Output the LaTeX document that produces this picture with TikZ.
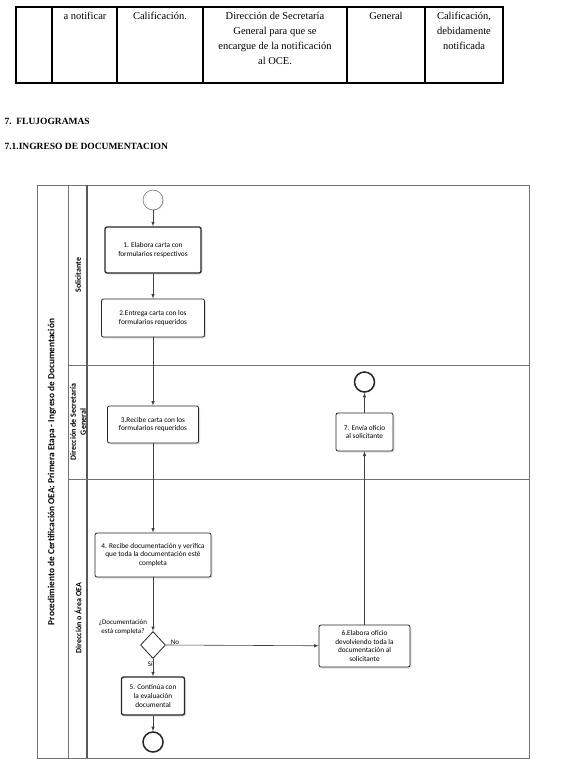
\documentclass[tikz,border=0pt]{standalone}
\usepackage{fontspec}
\setmainfont{Liberation Serif}
\newfontfamily\boxfont{Carlito}
\usetikzlibrary{arrows,shapes.geometric,shadows}

\begin{document}
\begin{tikzpicture}[x=1pt,y=-1pt,>=latex,
	celda/.style={anchor=north, align=center, font=\fontsize{10.5}{15}\selectfont},
	titulo/.style={anchor=west, font=\bfseries\fontsize{9.5}{11}\selectfont},
	carril/.style={rotate=90, align=center, font=\boxfont\bfseries\fontsize{8}{10}\selectfont},
	actividad/.style={draw=black!85, line width=0.8pt, rounded corners=2pt, fill=white, align=center,
		inner sep=1pt, font=\boxfont\fontsize{7.3}{8.8}\selectfont,
		drop shadow={shadow xshift=1.5pt, shadow yshift=-1.5pt, fill=black!25}},
	fuerte/.style={line width=1.3pt},
	evento/.style={circle, draw=black!85, fill=white, minimum size=20pt, inner sep=0pt,
		drop shadow={shadow xshift=1pt, shadow yshift=-1pt, fill=black!20}},
	flujo/.style={->, draw=black!75, line width=0.6pt},
	etiqueta/.style={font=\boxfont\fontsize{7}{8.5}\selectfont, align=center, inner sep=0pt}]
	\useasboundingbox (0,0) rectangle (574,778);
	% tabla
	\draw [line width=1.2pt] (16,7) rectangle (503,83);
	\foreach \x in {52,117,203,347,425}
		\draw [line width=1.2pt] (\x,7) -- (\x,83);
	\node [celda] (t1) at (85,9) {a notificar};
	\node [celda] (t2) at (160,9) {Calificación.};
	\node [celda] (t3) at (275,9) {Dirección de Secretaría\\General para que se\\encargue de la notificación\\al OCE.};
	\node [celda] (t4) at (386,9) {General};
	\node [celda] (t5) at (464,9) {Calificación,\\debidamente\\notificada};
	\node [titulo] (h1) at (1,121) {7.\ \ FLUJOGRAMAS};
	\node [titulo] (h2) at (1,146) {7.1.INGRESO DE DOCUMENTACION};
	% piscina y carriles
	\draw [black!55, line width=0.8pt] (37,185) rectangle (529,758);
	\draw [black!55, line width=0.8pt] (68,185) -- (68,758);
	\draw [black!65, line width=1.2pt] (87,185) -- (87,758);
	\draw [black!55, line width=1pt] (68,365) -- (529,365);
	\draw [black!55, line width=1pt] (68,479) -- (529,479);
	\node [carril, font=\boxfont\bfseries\fontsize{9.3}{11}\selectfont] (pool) at (52,472) {Procedimiento de Certificación OEA: Primera Etapa - Ingreso de Documentación};
	\node [carril] (l1) at (78,275) {Solicitante};
	\node [carril] (l2) at (78,422) {Dirección de Secretaría\\General};
	\node [carril] (l3) at (78,618) {Dirección o Área OEA};
	% actividades
	\node [evento, draw=black!70] (inicio) at (153,200) {};
	\node [actividad, fuerte, minimum width=96pt, minimum height=46pt] (a1) at (153,250) {1. Elabora carta con\\formularios respectivos};
	\node [actividad, minimum width=103pt, minimum height=38pt] (a2) at (153,318) {2.Entrega carta con los\\formularios requeridos};
	\node [actividad, minimum width=91pt, minimum height=37pt] (a3) at (153,424.5) {3.Recibe carta con los\\formularios requeridos};
	\node [actividad, minimum width=116pt, minimum height=44pt] (a4) at (153,555) {4. Recibe documentación y verifica\\que toda la documentación esté\\completa};
	\node [diamond, draw=black!85, line width=0.8pt, fill=white, minimum width=25pt, minimum height=27pt, inner sep=0pt] (dec) at (153,645) {};
	\node [actividad, fuerte, minimum width=63pt, minimum height=38pt] (a5) at (153,696) {5. Continúa con\\la evaluación\\documental};
	\node [evento, line width=1.5pt] (fin1) at (153,742) {};
	\node [actividad, minimum width=91pt, minimum height=42pt, font=\boxfont\fontsize{7.3}{8.4}\selectfont] (a6) at (364.5,646) {6.Elabora oficio\\devolviendo toda la\\documentación al\\solicitante};
	\node [actividad, minimum width=57pt, minimum height=38pt] (a7) at (364.5,432) {7. Envía oficio\\al solicitante};
	\node [evento, line width=1.5pt] (fin2) at (364.5,382) {};
	% flujos
	\draw [flujo] (inicio) -- (a1);
	\draw [flujo] (a1) -- (a2);
	\draw [flujo] (a2) -- (a3);
	\draw [flujo] (a3) -- (a4);
	\draw [flujo] (a4) -- (dec);
	\draw [flujo] (dec) -- (a5) node [pos=0.3, left, etiqueta] {Sí};
	\draw [flujo] (a5) -- (fin1);
	\draw [flujo] (dec.east) -- (a6) node [pos=0.06, above, etiqueta] {No};
	\draw [flujo] (a6) -- (a7);
	\draw [flujo] (a7) -- (fin2);
	\node [etiqueta] (pregunta) at (123,627) {¿Documentación\\está completa?};
\end{tikzpicture}
\end{document}
